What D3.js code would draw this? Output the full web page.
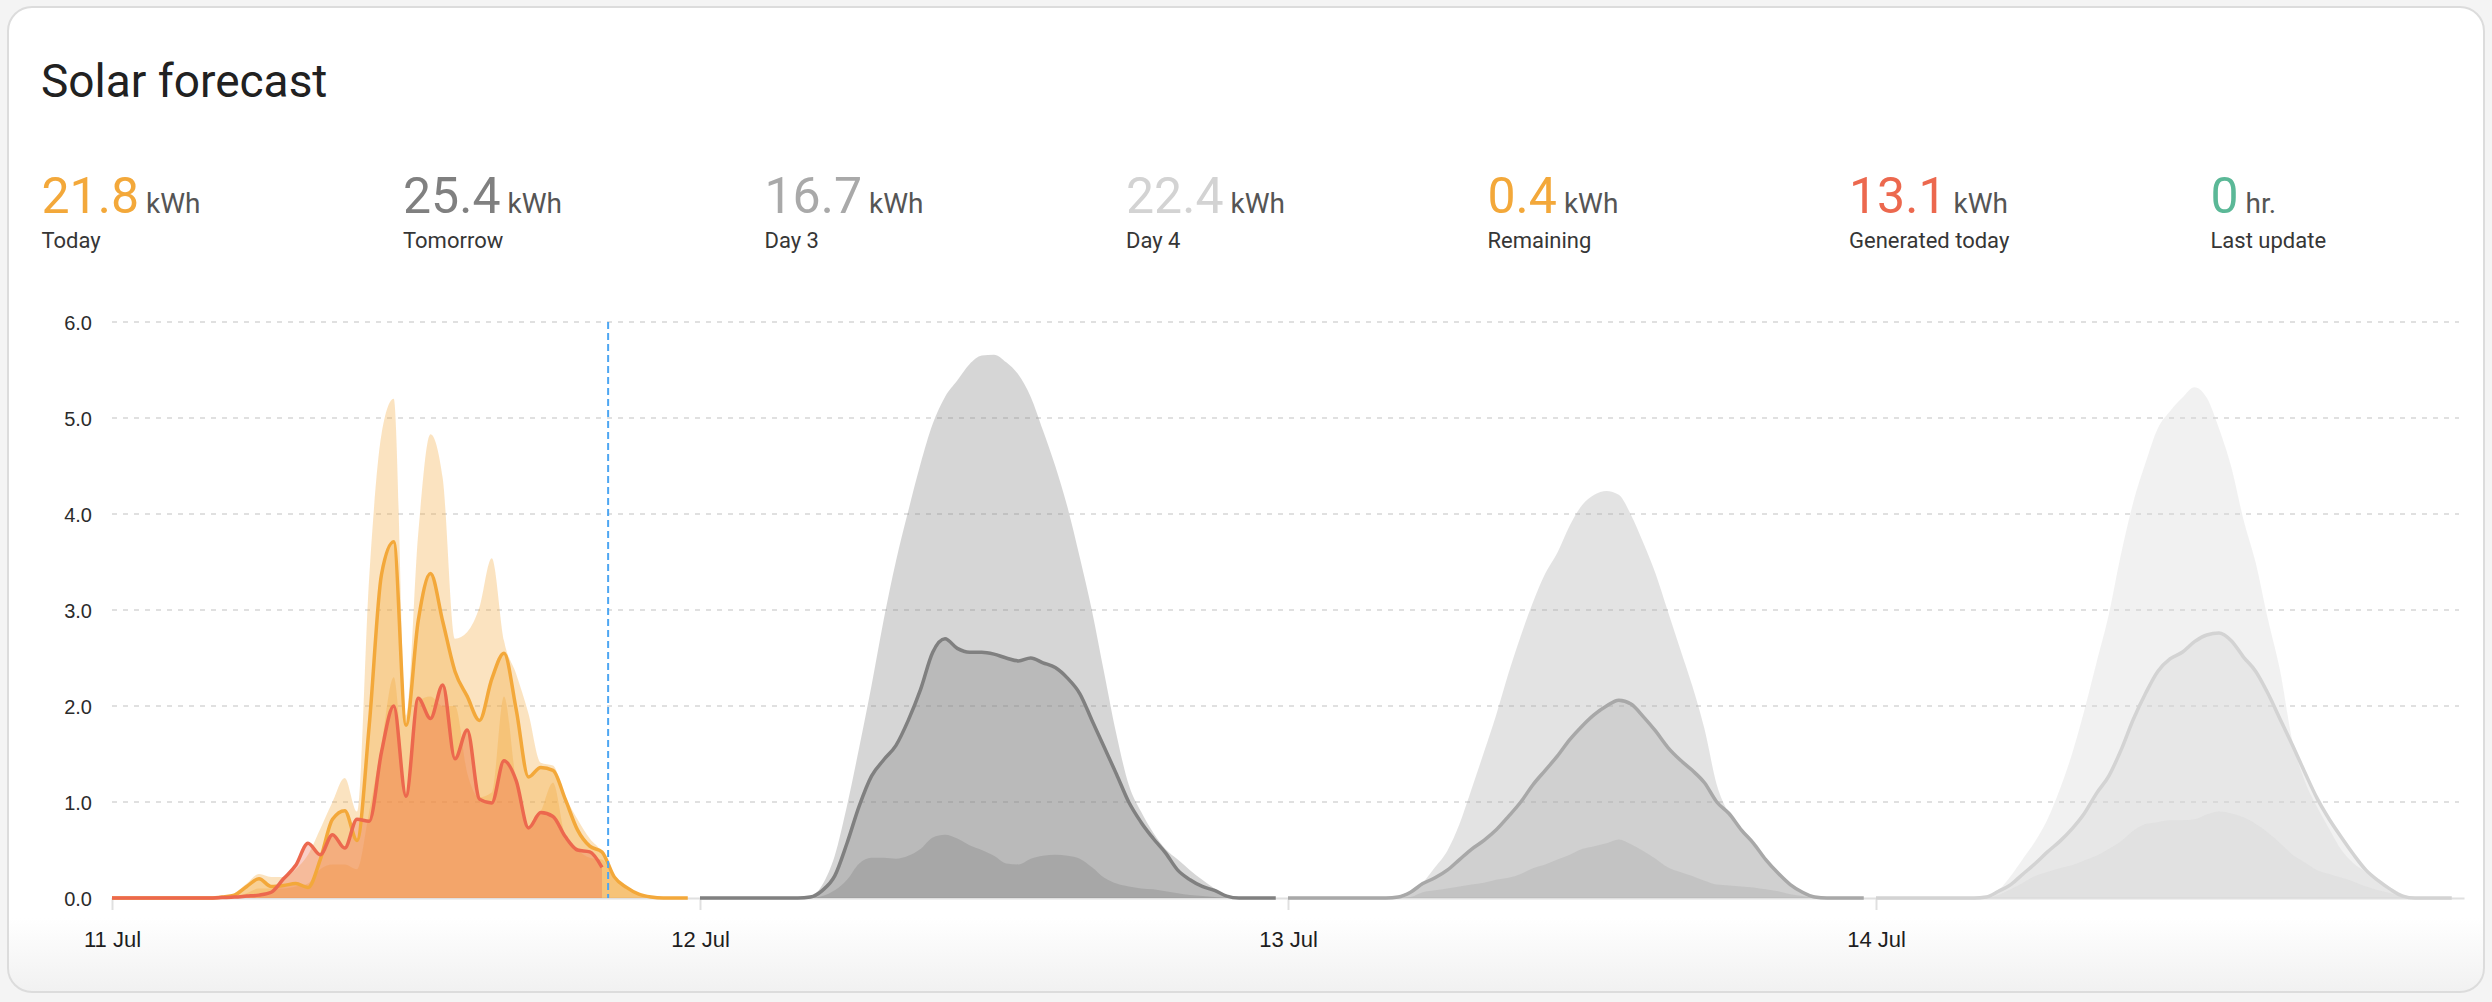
<!DOCTYPE html>
<html><head><meta charset="utf-8">
<script src="https://cdn.jsdelivr.net/npm/d3@7"></script>
<style>
html,body{margin:0;padding:0;background:#f4f4f4;}
svg{display:block;}
</style></head><body>
<script>
// ---------- data ----------
const title = "Solar forecast";
const dayLabels = ["11 Jul", "12 Jul", "13 Jul", "14 Jul"];
const yTicks = [0, 1, 2, 3, 4, 5, 6];
const statValues = ["21.8", "25.4", "16.7", "22.4", "0.4", "13.1", "0"];
const statUnits = ["kWh", "kWh", "kWh", "kWh", "kWh", "kWh", "hr."];
const statLabels = ["Today", "Tomorrow", "Day 3", "Day 4", "Remaining", "Generated today", "Last update"];
const statColors = ["#f3a83a", "#808080", "#a9a9a9", "#d3d3d3", "#f3a83a", "#ec684e", "#5bb897"];
const nowTime = "2023-07-11T20:15:00Z";

// half-hourly values (kW), 00:00 .. 23:30
const day1Estimate = [0,0,0,0,0,0,0,0,0, 0.01,0.03,0.12,0.2,0.12,0.13,0.15,0.11,0.4,0.82,0.91,0.6,1.8,3.37,3.71,1.8,2.89,3.38,2.88,2.36,2.1,1.85,2.28,2.55,1.96,1.26,1.36,1.33,1.03,0.71,0.54,0.48,0.22,0.11,0.04,0.01,0,0,0];
const day1P90 = [0,0,0,0,0,0,0,0,0, 0.01,0.05,0.15,0.25,0.22,0.22,0.3,0.45,0.72,1.0,1.25,0.9,3.35,4.83,5.2,1.9,3.8,4.83,4.37,2.7,2.77,3.03,3.54,2.68,2.33,1.92,1.41,1.38,1.06,0.82,0.62,0.48,0.22,0.11,0.04,0.01,0,0,0];
const day1P10 = [0,0,0,0,0,0,0,0,0,0, 0.01,0.05,0.1,0.1,0.1,0.12,0.15,0.3,0.35,0.35,0.3,0.9,1.6,2.3,1.1,2.05,2.1,2.0,2.0,1.3,1.05,1.1,2.1,1.2,0.75,0.9,1.2,0.65,0.5,0.42,0.4,0.2,0.1,0.04,0.01,0,0,0];
// actual generation, 00:00 .. 20:00
const day1Actual = [0,0,0,0,0,0,0,0,0, 0.005,0.01,0.02,0.03,0.06,0.2,0.34,0.57,0.45,0.66,0.52,0.82,0.8,1.52,2.0,1.06,2.08,1.87,2.22,1.45,1.75,1.03,0.99,1.43,1.22,0.73,0.89,0.85,0.64,0.5,0.48,0.32];

const day2Estimate = [0,0,0,0,0,0,0,0,0, 0.01,0.08,0.23,0.57,0.96,1.27,1.44,1.59,1.85,2.17,2.56,2.7,2.6,2.56,2.56,2.54,2.5,2.47,2.5,2.45,2.4,2.29,2.13,1.85,1.57,1.29,1.0,0.79,0.62,0.47,0.29,0.19,0.12,0.08,0.02,0,0,0,0];
const day2P90 = [0,0,0,0,0,0,0,0,0, 0.01,0.14,0.44,0.96,1.57,2.21,2.9,3.51,4.03,4.52,4.94,5.22,5.39,5.56,5.65,5.66,5.58,5.45,5.22,4.87,4.5,4.07,3.55,2.99,2.34,1.7,1.18,0.9,0.68,0.51,0.4,0.29,0.19,0.1,0.03,0,0,0,0];
const day2P10 = [0,0,0,0,0,0,0,0,0,0, 0.02,0.08,0.19,0.36,0.42,0.42,0.41,0.44,0.51,0.63,0.66,0.62,0.55,0.5,0.44,0.36,0.35,0.41,0.44,0.45,0.44,0.41,0.32,0.21,0.15,0.12,0.1,0.09,0.07,0.05,0.03,0.02,0.01,0,0,0,0,0];

const day3Estimate = [0,0,0,0,0,0,0,0,0, 0.01,0.06,0.15,0.21,0.29,0.4,0.51,0.6,0.71,0.85,1.0,1.18,1.33,1.48,1.65,1.79,1.91,2.0,2.06,2.02,1.89,1.74,1.57,1.44,1.33,1.2,1.0,0.88,0.71,0.57,0.4,0.26,0.14,0.06,0.01,0,0,0,0];
const day3P90 = [0,0,0,0,0,0,0,0,0, 0.01,0.06,0.16,0.32,0.49,0.77,1.14,1.52,1.91,2.34,2.73,3.08,3.38,3.6,3.88,4.09,4.2,4.24,4.2,3.99,3.7,3.38,2.99,2.6,2.21,1.76,1.18,0.88,0.7,0.55,0.38,0.26,0.14,0.06,0.01,0,0,0,0];
const day3P10 = [0,0,0,0,0,0,0,0,0,0, 0.01,0.06,0.08,0.1,0.12,0.14,0.16,0.19,0.21,0.25,0.31,0.35,0.4,0.45,0.51,0.54,0.57,0.61,0.56,0.49,0.41,0.32,0.27,0.23,0.18,0.14,0.13,0.12,0.11,0.09,0.07,0.04,0.02,0,0,0,0,0];

const day4Estimate = [0,0,0,0,0,0,0,0,0, 0.01,0.07,0.14,0.25,0.36,0.48,0.59,0.72,0.88,1.09,1.27,1.54,1.86,2.13,2.36,2.49,2.56,2.67,2.74,2.76,2.68,2.51,2.36,2.13,1.86,1.59,1.31,1.04,0.82,0.63,0.45,0.29,0.18,0.09,0.02,0,0,0,0];
const day4P90 = [0,0,0,0,0,0,0,0,0, 0.01,0.08,0.23,0.41,0.59,0.82,1.13,1.5,1.95,2.45,2.95,3.58,4.12,4.53,4.89,5.07,5.21,5.32,5.21,4.89,4.49,3.94,3.49,2.9,2.36,1.63,1.22,0.95,0.72,0.5,0.36,0.27,0.18,0.11,0.04,0,0,0,0];
const day4P10 = [0,0,0,0,0,0,0,0,0,0, 0.03,0.09,0.16,0.23,0.27,0.31,0.34,0.39,0.44,0.51,0.59,0.7,0.77,0.79,0.81,0.81,0.82,0.87,0.9,0.88,0.84,0.77,0.68,0.57,0.45,0.37,0.29,0.25,0.21,0.17,0.12,0.08,0.05,0.02,0,0,0,0];

const dayColors = ["#f3a83a", "#808080", "#a8a8a8", "#d3d3d3"];
const actualColor = "#ec684e";

// ---------- layout ----------
const W = 2492, H = 1002;
const svg = d3.select("body").append("svg").attr("width", W).attr("height", H);
const defs = svg.append("defs");
const grad = defs.append("linearGradient").attr("id", "cardGrad").attr("x1", 0).attr("y1", 0).attr("x2", 0).attr("y2", 1);
grad.append("stop").attr("offset", "0.925").attr("stop-color", "#ffffff");
grad.append("stop").attr("offset", "1").attr("stop-color", "#f1f1f1");

svg.append("rect").attr("x", 8).attr("y", 7).attr("width", 2476).attr("height", 985)
  .attr("rx", 24).attr("fill", "url(#cardGrad)").attr("stroke", "#dcdcdc").attr("stroke-width", 2);

svg.append("text").attr("x", 41).attr("y", 97).text(title)
  .style("font-family", "Roboto, sans-serif").style("font-size", "46px").style("fill", "#212121");

// stats
const stats = svg.append("g");
statValues.forEach((v, i) => {
  const x0 = 41.5 + i * 361.5;
  const t = stats.append("text").attr("x", x0).attr("y", 212.5).style("font-family", "Roboto, sans-serif");
  t.append("tspan").text(v).style("font-size", "50px").style("fill", statColors[i]);
  t.append("tspan").attr("dx", 7).text(statUnits[i]).style("font-size", "28px").style("fill", "#555555");
  stats.append("text").attr("x", x0).attr("y", 247.5).text(statLabels[i])
    .style("font-family", "Roboto, sans-serif").style("font-size", "22px").style("fill", "#363636");
});

// scales
const x = d3.scaleUtc().domain([Date.UTC(2023, 6, 11), Date.UTC(2023, 6, 15)]).range([112, 2464]);
const y = d3.scaleLinear().domain([0, 6]).range([898, 322]);
const tAt = (day, i) => new Date(Date.UTC(2023, 6, 11 + day, 0, 30 * i));

// grid
const grid = svg.append("g");
grid.selectAll("line").data(yTicks.filter(d => d > 0)).join("line")
  .attr("x1", 112).attr("x2", 2459).attr("y1", d => y(d)).attr("y2", d => y(d))
  .attr("stroke", "#e0e0e0").attr("stroke-width", 2).attr("stroke-dasharray", "5,6");

// y axis labels
const yAxis = svg.append("g").attr("transform", "translate(92,0)")
  .call(d3.axisLeft(y).tickValues(yTicks).tickFormat(d3.format(".1f")).tickSize(0).tickPadding(0));
yAxis.select(".domain").remove();
yAxis.selectAll("text").style("font-family", "'Liberation Sans', Arial, sans-serif")
  .style("font-size", "20px").style("fill", "#2b2b2b").attr("dy", "0.36em");

// x axis
const dayStarts = dayLabels.map((d, i) => new Date(Date.UTC(2023, 6, 11 + i)));
const xAxis = svg.append("g").attr("transform", "translate(0,898)")
  .call(d3.axisBottom(x).tickValues(dayStarts).tickFormat((d, i) => dayLabels[i]).tickSize(12).tickSizeOuter(0));
xAxis.select(".domain").attr("stroke", "#e0e0e0").attr("stroke-width", 2);
xAxis.selectAll(".tick line").attr("stroke", "#e0e0e0").attr("stroke-width", 2);
xAxis.selectAll(".tick text").attr("y", 48.5).attr("dy", null)
  .style("font-family", "'Liberation Sans', Arial, sans-serif").style("font-size", "22px").style("fill", "#1e1e1e");

// series
const plot = svg.append("g");
const area = (day) => d3.area().x((d, i) => x(tAt(day, i))).y0(y(0)).y1(d => y(d)).curve(d3.curveMonotoneX);
const line = (day) => d3.line().x((d, i) => x(tAt(day, i))).y(d => y(d)).curve(d3.curveMonotoneX);

const days = [
  { est: day1Estimate, p90: day1P90, p10: day1P10 },
  { est: day2Estimate, p90: day2P90, p10: day2P10 },
  { est: day3Estimate, p90: day3P90, p10: day3P10 },
  { est: day4Estimate, p90: day4P90, p10: day4P10 }
];
const alpha = 0.32;
days.forEach((s, d) => {
  const g = plot.append("g");
  const c = dayColors[d];
  [s.p90, s.est, s.p10].forEach(arr => {
    g.append("path").datum(arr).attr("d", area(d)).attr("fill", c).attr("fill-opacity", alpha);
  });
  if (d === 0) {
    g.append("path").datum(day1Actual).attr("d", area(0)).attr("fill", actualColor).attr("fill-opacity", alpha);
  }
  g.append("path").datum(s.est).attr("d", line(d)).attr("fill", "none")
    .attr("stroke", c).attr("stroke-width", 3.5).attr("stroke-linejoin", "round");
  if (d === 0) {
    g.append("path").datum(day1Actual).attr("d", line(0)).attr("fill", "none")
      .attr("stroke", actualColor).attr("stroke-width", 3.5).attr("stroke-linejoin", "round");
  }
});

// now marker
const nx = x(new Date(nowTime));
svg.append("line").attr("x1", nx).attr("x2", nx).attr("y1", y(6)).attr("y2", y(0))
  .attr("stroke", "#4da6f2").attr("stroke-width", 2).attr("stroke-dasharray", "7,4");
</script>
</body></html>
